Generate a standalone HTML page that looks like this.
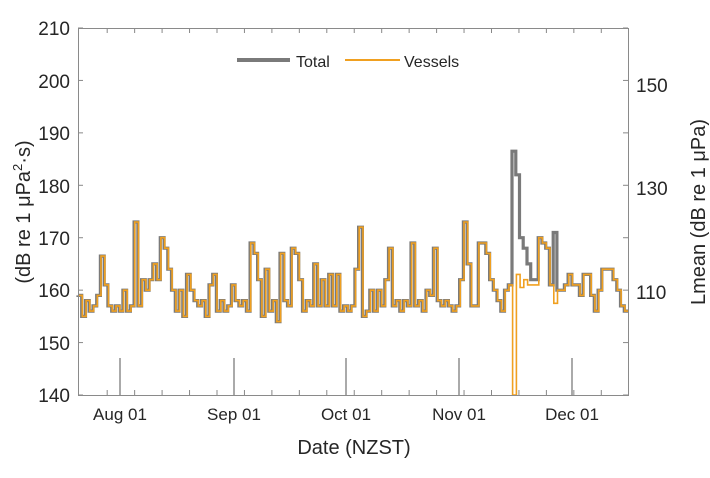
<!DOCTYPE html>
<html><head><meta charset="utf-8"><style>
body{margin:0;background:#fff;}
svg text{font-family:"Liberation Sans",Arial,sans-serif;fill:#262626;}
</style></head><body>
<svg id="s" width="710" height="473" xmlns="http://www.w3.org/2000/svg">
<rect width="710" height="473" fill="#fff"/>
<g id="g"></g>
<rect x="78.5" y="28.5" width="550" height="367" fill="none" stroke="#8a8a8a" stroke-width="1"/>
<g font-size="19" text-anchor="end">
<text x="70" y="35">210</text><text x="70" y="88">200</text><text x="70" y="140">190</text>
<text x="70" y="193">180</text><text x="70" y="245">170</text><text x="70" y="297">160</text>
<text x="70" y="350">150</text><text x="70" y="402">140</text>
</g>
<g font-size="19">
<text x="636" y="92">150</text><text x="636" y="195">130</text><text x="636" y="299">110</text>
</g>
<g font-size="17" text-anchor="middle">
<text x="120" y="420">Aug 01</text><text x="234" y="420">Sep 01</text><text x="346" y="420">Oct 01</text>
<text x="459" y="420">Nov 01</text><text x="572" y="420">Dec 01</text>
<text x="354" y="454" font-size="20">Date (NZST)</text>
</g>
<text transform="translate(30,212) rotate(-90)" font-size="20" text-anchor="middle">(dB re 1 μPa<tspan dy="-8" font-size="13">2</tspan><tspan dy="8">·s)</tspan></text>
<text transform="translate(705,212) rotate(-90)" font-size="20" text-anchor="middle">Lmean (dB re 1 μPa)</text>
<line x1="237" y1="60" x2="290" y2="60" stroke="#7a7a7a" stroke-width="4"/>
<text x="296" y="67" font-size="16">Total</text>
<line x1="345" y1="60" x2="400" y2="60" stroke="#f0a020" stroke-width="2"/>
<text x="404" y="67" font-size="16">Vessels</text>
</svg>
<script>
var g=document.getElementById('g'),NS='http://www.w3.org/2000/svg';
function el(t,a){var e=document.createElementNS(NS,t);for(var k in a)e.setAttribute(k,a[k]);g.appendChild(e);return e;}
function Y(v){return 28+(210-v)*5.243;}
[120,234,346,459,572].forEach(function(x){el('line',{x1:x,y1:358,x2:x,y2:395,stroke:'#555','stroke-width':1});});
for(var d=-11;d<=140;d+=7.5){var x=120+d*3.66;if(x>80&&x<627){el('line',{x1:x,y1:28,x2:x,y2:33,stroke:'#888'});el('line',{x1:x,y1:395,x2:x,y2:390,stroke:'#888'});}}
for(var v=140;v<=210;v+=10){el('line',{x1:78,y1:Y(v),x2:83,y2:Y(v),stroke:'#888'});el('line',{x1:623,y1:Y(v),x2:628,y2:Y(v),stroke:'#888'});}
var t=[159,155,158,156,157,159,166.5,161,157,156,157,156,160,156,157,173,157,162,160,162,165,162,170,168,164,160,156,160,155,163,160,158,157,158,155,161,163,156,158,156,157,161,158,157,158,156,169,167,162,155,164,156,158,154,167,158,157,168,167,162,156,158,157,165,157,162,157,163,157,163,156,157,156,157,164,172,155,156,160,156,160,157,162,168,157,158,156,158,157,169,157,158,156,160,159,168,158,157,158,157,156,157,162,173,165,157,157,169,169,167,162,160,158,156,160,161,186.5,182,170,168,165,162,162,170,169,168,161,171,160,160,161,163,161,161,159,163,163,159,156,160,164,164,164,162,160,157,156];
var o=t.slice();
var over={116:140,117:163,118:160.5,119:162,120:161,121:161,122:161,126:161,127:157.5,128:160,129:160};
for(var k in over)o[k]=over[k];
var dx=(628-78)/t.length;
function path(a,off){var p='M78,'+Y(a[0]);for(var i=0;i<a.length;i++){var x0=78+i*dx+off,x1=78+(i+1)*dx+off;var yy=Math.min(Y(a[i]),396);p+=' L'+x0.toFixed(1)+','+yy.toFixed(1)+' L'+x1.toFixed(1)+','+yy.toFixed(1);}return p;}
el('path',{d:path(t,0),fill:'none',stroke:'#7a7a7a','stroke-width':3.2});
el('path',{d:path(o,0.6),fill:'none',stroke:'#f0a020','stroke-width':1.6});
</script>
</body></html>
